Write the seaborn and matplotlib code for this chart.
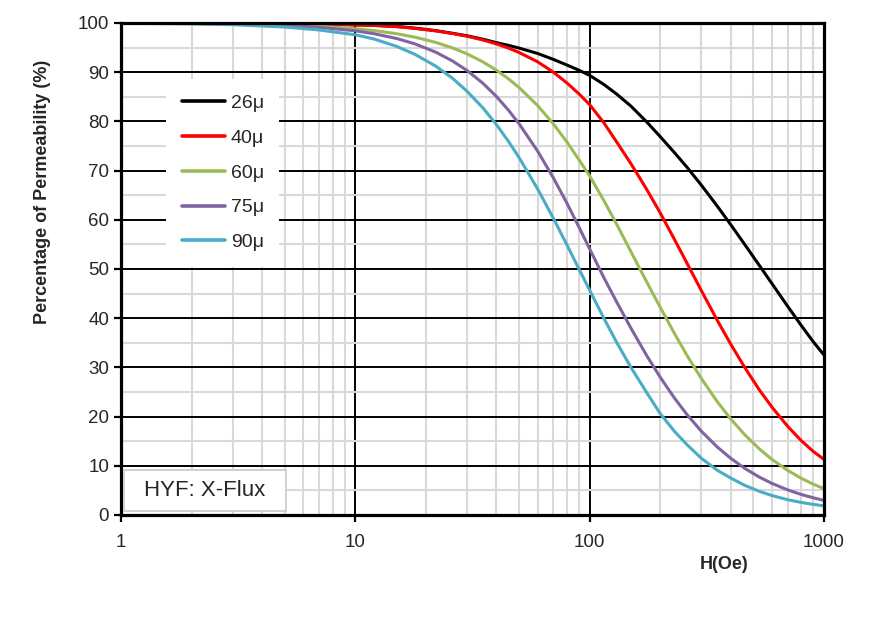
import pandas as pd
import matplotlib
matplotlib.use("Agg")
import matplotlib.pyplot as plt
import matplotlib.ticker as mticker
from matplotlib.patches import Rectangle
import seaborn as sns

sns.set_style("white")
plt.rcParams["font.family"] = ["Liberation Sans", "DejaVu Sans"]

# H field (Oe) and percentage of initial permeability
h_oe = [1, 2, 3, 5, 7, 10, 12, 15, 18, 22, 26, 30, 35, 40, 45, 50, 60, 70,
        80, 90, 100, 115, 130, 150, 175, 200, 230, 260, 300, 350, 400, 460,
        530, 600, 700, 800, 900, 1000]
perm_26 = [100, 99.98, 99.95, 99.9, 99.8, 99.63, 99.52, 99.3, 98.95, 98.45,
           97.9, 97.4, 96.7, 96.0, 95.45, 94.9, 93.8, 92.6, 91.45, 90.4,
           89.35, 87.5, 85.6, 83.1, 79.9, 76.9, 73.65, 70.7, 67.0, 62.8, 59.0,
           54.9, 50.7, 47.0, 42.4, 38.5, 35.2, 32.5]
perm_40 = [100, 99.98, 99.95, 99.88, 99.78, 99.6, 99.5, 99.25, 98.9, 98.4,
           97.85, 97.3, 96.55, 95.75, 94.9, 94.0, 92.1, 90.0, 87.8, 85.6,
           83.4, 79.7, 75.9, 71.4, 66.2, 61.4, 56.0, 51.2, 45.55, 39.6, 34.7,
           29.9, 25.4, 21.9, 18.0, 15.1, 12.9, 11.3]
perm_60 = [99.97, 99.91, 99.83, 99.61, 99.34, 98.84, 98.46, 97.82, 97.11,
           96.06, 94.93, 93.71, 92.1, 90.41, 88.65, 86.87, 83.2, 79.49, 75.8,
           72.2, 68.9, 63.9, 59.2, 53.5, 47.4, 42.2, 36.9, 32.45, 27.7, 23.05,
           19.5, 16.26, 13.41, 11.28, 9.05, 7.45, 6.26, 5.34]
perm_75 = [99.97, 99.9, 99.8, 99.51, 99.13, 98.41, 97.83, 96.85, 95.74, 94.09,
           92.27, 90.33, 87.76, 85.06, 82.29, 79.5, 73.93, 68.51, 63.35,
           58.52, 54.07, 48.22, 43.4, 37.96, 32.42, 27.99, 23.76, 20.42, 16.99,
           13.83, 11.51, 9.44, 7.69, 6.41, 5.09, 4.16, 3.49, 2.96]
perm_90 = [99.94, 99.82, 99.65, 99.18, 98.58, 97.6, 96.75, 95.25, 93.6,
           91.25, 88.75, 86.1, 82.76, 79.35, 75.95, 72.63, 66.24, 60.3, 54.88,
           50.0, 45.66, 39.97, 35.19, 29.99, 24.9, 20.6, 17.0, 14.3, 11.5, 9.1,
           7.5, 6.0, 4.8, 3.95, 3.1, 2.55, 2.15, 1.85]

grades = ["26μ", "40μ", "60μ", "75μ", "90μ"]
colors = ["#000000", "#FF0000", "#9BBB59", "#8064A2", "#4BACC6"]

series = [perm_26, perm_40, perm_60, perm_75, perm_90]
df = pd.concat(
    [pd.DataFrame({"H": h_oe, "Perm": vals, "Grade": g}) for g, vals in zip(grades, series)],
    ignore_index=True,
)

fig = plt.figure(figsize=(8.8, 6.18), dpi=100)
ax = fig.add_axes([0.1375, 0.1667, 0.7989, 0.7961])

sns.lineplot(data=df, x="H", y="Perm", hue="Grade", hue_order=grades,
             palette=colors, linewidth=2.2, ax=ax, legend=False, zorder=3)

ax.set_xscale("log")
ax.set_xlim(1, 1000)
ax.set_ylim(0, 100)

ax.xaxis.set_major_locator(mticker.LogLocator(base=10, numticks=10))
ax.xaxis.set_minor_locator(mticker.LogLocator(base=10, subs=range(2, 10), numticks=20))
ax.xaxis.set_major_formatter(mticker.FuncFormatter(lambda v, p: f"{v:g}"))
ax.xaxis.set_minor_formatter(mticker.NullFormatter())
ax.yaxis.set_major_locator(mticker.MultipleLocator(10))
ax.yaxis.set_minor_locator(mticker.MultipleLocator(5))

ax.grid(which="minor", color="#D9D9D9", linewidth=1.5, zorder=0)
ax.grid(which="major", color="black", linewidth=1.4, zorder=1)
ax.set_axisbelow(True)

ax.tick_params(which="major", direction="out", length=5, width=1.6,
               labelsize=13.5, color="black", left=True, bottom=True)
ax.tick_params(axis="y", pad=3.5)
ax.tick_params(axis="x", pad=9)
ax.tick_params(which="minor", length=0)

for s in ax.spines.values():
    s.set_color("black")
    s.set_linewidth(2.3)
    s.set_zorder(5)

ax.set_xlabel("H(Oe)", fontsize=13, fontweight="bold")
ax.xaxis.set_label_coords(0.858, -0.083)
ax.set_ylabel("Percentage of Permeability (%)", fontsize=13, fontweight="bold")
ax.yaxis.set_label_coords(-0.100, 0.656)

handles = [plt.Line2D([], [], color=c, linewidth=2.6) for c in colors]
leg = ax.legend(handles, grades, loc="upper left", bbox_to_anchor=(0.0647, 0.886),
                frameon=True, fontsize=14, handlelength=2.2, handletextpad=0.3,
                labelspacing=0.88, borderpad=0.8, borderaxespad=0, fancybox=False)
leg.get_frame().set_facecolor("white")
leg.get_frame().set_edgecolor("none")
leg.get_frame().set_alpha(1)
leg.set_zorder(6)

ax.add_patch(Rectangle((0.0043, 0.0081), 0.2304, 0.0833, transform=ax.transAxes,
                       facecolor="white", edgecolor="#D0D0D0", linewidth=1.4, zorder=6))
ax.text(0.1195, 0.0498, "HYF: X-Flux", transform=ax.transAxes, fontsize=16,
        ha="center", va="center", zorder=7)

fig.savefig("out.png", dpi=100)
